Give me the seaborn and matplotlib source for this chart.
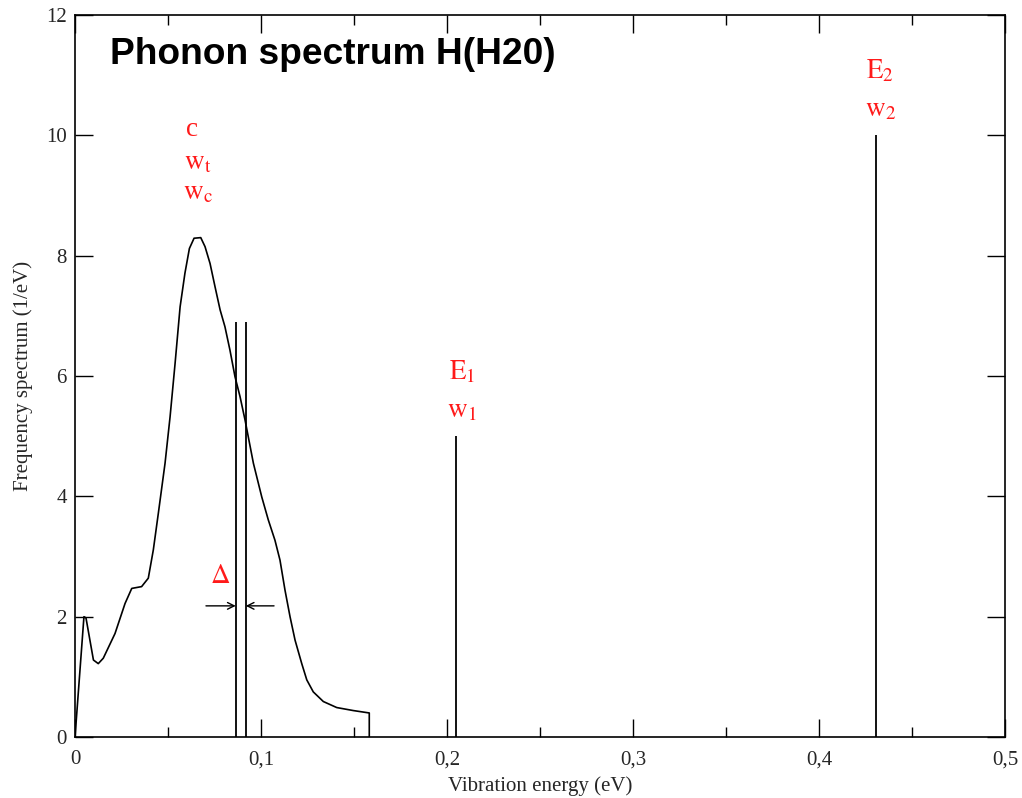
import numpy as np
import pandas as pd
import seaborn as sns
import matplotlib
matplotlib.use("Agg")
import matplotlib.pyplot as plt
from matplotlib.ticker import MultipleLocator

# ---- data ----
energy = [0.0, 0.0048, 0.0059, 0.0099, 0.0125, 0.0152, 0.0215, 0.0269, 0.0305, 0.0358,
          0.0394, 0.0421, 0.0448, 0.0484, 0.0511, 0.0538, 0.0565, 0.0591, 0.0615, 0.064,
          0.0676, 0.0699, 0.0726, 0.0753, 0.078, 0.0806, 0.0833, 0.086, 0.0887, 0.0914,
          0.0959, 0.1004, 0.1039, 0.1075, 0.1102, 0.1129, 0.1156, 0.1183, 0.1219, 0.1246,
          0.1281, 0.1335, 0.1407, 0.1496, 0.1582, 0.1582]
spectrum = [0.0, 2.0, 1.98, 1.28, 1.22, 1.31, 1.72, 2.22, 2.47, 2.50,
            2.64, 3.11, 3.72, 4.55, 5.32, 6.21, 7.15, 7.71, 8.12, 8.29,
            8.30, 8.15, 7.87, 7.48, 7.10, 6.82, 6.43, 5.99, 5.66, 5.27,
            4.55, 3.99, 3.61, 3.27, 2.94, 2.44, 2.00, 1.61, 1.22, 0.95,
            0.75, 0.59, 0.49, 0.44, 0.40, 0.0]
line_x = [0.0864, 0.0918, 0.2048, 0.4306]
line_h = [6.89, 6.89, 5.0, 10.0]
x_ticks = [0, 0.1, 0.2, 0.3, 0.4, 0.5]
x_tick_labels = ["0", "0,1", "0,2", "0,3", "0,4", "0,5"]
y_ticks = [0, 2, 4, 6, 8, 10, 12]

sns.set_theme(style="ticks")
plt.rcParams['font.family'] = ['Liberation Serif', 'DejaVu Serif']
plt.rcParams['mathtext.fontset'] = 'stix'

fig = plt.figure(figsize=(10.22, 7.98), dpi=100)
ax = fig.add_axes([0.0734, 0.0764, 0.91, 0.9048])

df = pd.DataFrame({"E": energy, "S": spectrum})
sns.lineplot(data=df, x="E", y="S", ax=ax, color="black", lw=1.2, sort=False,
             estimator=None)
ax.vlines(line_x, 0, line_h, color="black", lw=1.3)

ax.set_xlim(0, 0.5)
ax.set_ylim(0, 12)
ax.set_xticks(x_ticks)
ax.set_xticklabels(x_tick_labels)
ax.set_yticks(y_ticks)
ax.xaxis.set_minor_locator(MultipleLocator(0.05))
ax.tick_params(which="major", direction="in", length=13, width=1.0,
               top=True, right=True, labelsize=15, color="black")
ax.tick_params(axis="x", which="major", pad=9.5)
ax.tick_params(axis="y", which="major", pad=6)
ax.tick_params(which="minor", axis="x", direction="in", length=7, width=1.0,
               top=True, bottom=True, color="black")
for s in ax.spines.values():
    s.set_linewidth(1.2)
    s.set_color("black")

ax.set_xlabel("Vibration energy (eV)", fontsize=15, labelpad=5)
ax.set_ylabel("Frequency spectrum (1/eV)", fontsize=15, labelpad=9)

red = "#ff1a1a"
fs = 19.5
ax.text(0.063, 10.10, "c", color=red, fontsize=fs, ha="center", va="center")
ax.text(0.066, 9.54, r"$\mathrm{w}_\mathrm{t}$", color=red, fontsize=fs, ha="center", va="center")
ax.text(0.066, 9.04, r"$\mathrm{w}_\mathrm{c}$", color=red, fontsize=fs, ha="center", va="center")
ax.text(0.208, 6.07, r"$\mathrm{E}_1$", color=red, fontsize=fs, ha="center", va="center")
ax.text(0.208, 5.42, r"$\mathrm{w}_1$", color=red, fontsize=fs, ha="center", va="center")
ax.text(0.433, 11.07, r"$\mathrm{E}_2$", color=red, fontsize=fs, ha="center", va="center")
ax.text(0.433, 10.42, r"$\mathrm{w}_2$", color=red, fontsize=fs, ha="center", va="center")
ax.text(0.0783, 2.66, r"$\Delta$", color=red, fontsize=fs, ha="center", va="center")

arrow_y = 2.18
ax.annotate("", xy=(line_x[0], arrow_y), xytext=(0.0704, arrow_y),
            arrowprops=dict(arrowstyle="->", color="black", lw=1.0, shrinkA=0, shrinkB=0))
ax.annotate("", xy=(line_x[1], arrow_y), xytext=(0.107, arrow_y),
            arrowprops=dict(arrowstyle="->", color="black", lw=1.0, shrinkA=0, shrinkB=0))

ax.text(0.019, 11.35, "Phonon spectrum H(H20)", fontsize=26.7, fontweight="bold",
        family=["Liberation Sans", "DejaVu Sans"], ha="left", va="center", color="black")

fig.savefig("out.png", dpi=100)
